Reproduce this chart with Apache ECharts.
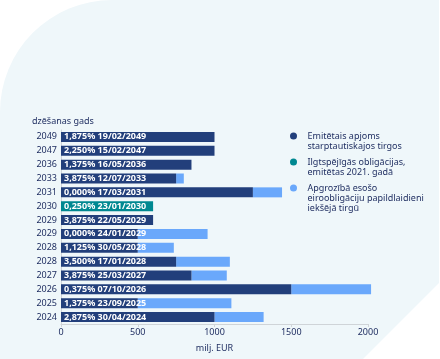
<!DOCTYPE html>
<html><head><meta charset="utf-8">
<script src="https://cdn.jsdelivr.net/npm/echarts@6/dist/echarts.min.js"></script>
<style>html,body{margin:0;padding:0;background:#fff}#c{width:440px;height:359px}</style>
</head><body><div id="c"></div>
<script>
// Bond labels (top to bottom) and redemption years
const bondLabels = ['1,875% 19/02/2049','2,250% 15/02/2047','1,375% 16/05/2036','3,875% 12/07/2033','0,000% 17/03/2031','0,250% 23/01/2030','3,875% 22/05/2029','0,000% 24/01/2029','1,125% 30/05/2028','3,500% 17/01/2028','3,875% 25/03/2027','0,375% 07/10/2026','1,375% 23/09/2025','2,875% 30/04/2024'];
const years = ['2049','2047','2036','2033','2031','2030','2029','2029','2028','2028','2027','2026','2025','2024'];
// Emitētais apjoms starptautiskajos tirgos (milj. EUR)
const intlIssued = [1000,1000,850,750,1250,'-',600,500,500,750,850,1500,500,1000];
// Ilgtspējīgās obligācijas, emitētas 2021. gadā
const greenBonds = ['-','-','-','-','-',600,'-','-','-','-','-','-','-','-'];
// Apgrozībā esošo eiroobligāciju papildlaidieni iekšējā tirgū
const domesticTaps = ['-','-','-',50,190,'-','-',455,235,350,230,520,610,320];
const xTicks = {min:0, max:2000, interval:500};
const seriesNames = ['Emitētais apjoms\nstarptautiskajos tirgos','Ilgtspējīgās obligācijas,\nemitētas 2021. gadā','Apgrozībā esošo\neiroobligāciju papildlaidieni\niekšējā tirgū'];

const navy = '#1b2a5e';
const colors = ['#223f7b','#008891','#6aa8fb'];
const font = 'Noto Sans';

function legendFor(i, top){
  const lines = seriesNames[i].split('\n').length;
  return {
    data:[seriesNames[i]], left:290, top:top, orient:'vertical',
    icon:'circle', itemWidth:18, itemHeight:7, padding:0,
    formatter: n => '\n'.repeat(lines-1) + n,
    textStyle:{color:navy, fontSize:9, lineHeight:10, fontFamily:font}
  };
}

const chart = echarts.init(document.getElementById('c'));
chart.setOption({
  animation:false,
  textStyle:{fontFamily:font},
  graphic:[
    {type:'rect', z:-100, silent:true, shape:{x:0, y:0, width:439, height:359, r:[112,0,0,0]}, style:{fill:'#eff7fa'}},
    {type:'polygon', z:-99, silent:true, shape:{points:[[439,283],[441,283],[441,361],[363,361],[363,359]]}, style:{fill:'#ffffff'}}
  ],
  title:{text:'dzēšanas gads', left:32, top:117, padding:0,
    textStyle:{color:navy, fontSize:9, fontWeight:'normal', fontFamily:font}},
  legend:[legendFor(0,121), legendFor(1,147), legendFor(2,163)],
  grid:{left:61, right:72, top:130, bottom:35, containLabel:false},
  xAxis:{type:'value', min:xTicks.min, max:xTicks.max, interval:xTicks.interval,
    name:'milj. EUR', nameLocation:'middle', nameGap:20,
    nameTextStyle:{color:navy, fontSize:9},
    axisLine:{show:true, lineStyle:{color:'#cfd4d8'}},
    axisTick:{show:true, length:3, lineStyle:{color:'#cfd4d8'}},
    splitLine:{show:false},
    axisLabel:{color:navy, fontSize:9, margin:4, formatter:v=>String(v)}},
  yAxis:{type:'category', data:bondLabels, inverse:true,
    axisLine:{show:true, lineStyle:{color:'#cfd4d8'}},
    axisTick:{show:false},
    axisLabel:{color:navy, fontSize:9, margin:4, formatter:(v,i)=>years[i]}},
  series:[
    {name:seriesNames[0], type:'bar', stack:'t', data:intlIssued, barWidth:10, clip:false,
     itemStyle:{color:colors[0]},
     label:{show:true, position:'insideLeft', distance:3, formatter:'{b}', color:'#fff', fontWeight:'bold', fontSize:9, fontFamily:font}},
    {name:seriesNames[1], type:'bar', stack:'t', data:greenBonds, barWidth:10, clip:false,
     itemStyle:{color:colors[1]},
     label:{show:true, position:'insideLeft', distance:3, formatter:'{b}', color:'#fff', fontWeight:'bold', fontSize:9, fontFamily:font}},
    {name:seriesNames[2], type:'bar', stack:'t', data:domesticTaps, barWidth:10, clip:false, z:1,
     itemStyle:{color:colors[2]}}
  ]
});
</script></body></html>
